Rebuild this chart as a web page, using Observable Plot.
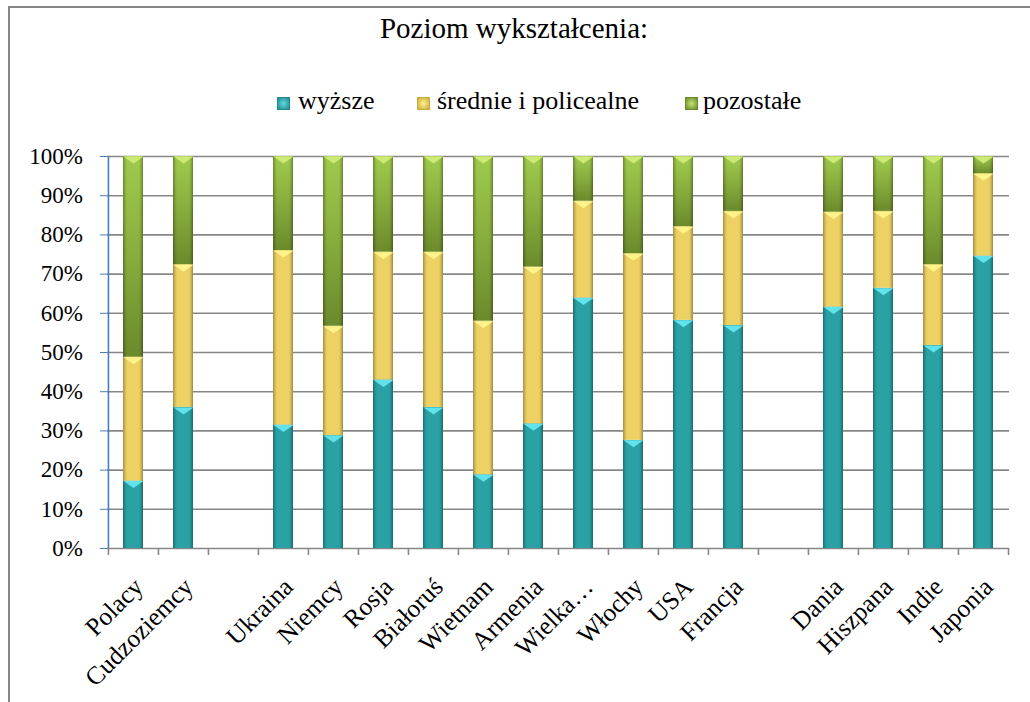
<!DOCTYPE html>
<html><head><meta charset="utf-8">
<script src="https://cdn.jsdelivr.net/npm/d3@7"></script>
<script src="https://cdn.jsdelivr.net/npm/@observablehq/plot@0.6"></script>
<style>
body{margin:0;background:#fff;font-family:"Liberation Serif",serif;}
#wrap{position:relative;width:1030px;height:702px;overflow:hidden;background:#fff;font-family:"Liberation Serif",serif;}
#frame{position:absolute;left:8px;top:6px;width:1200px;height:900px;border-left:2px solid #878787;border-top:2px solid #878787;}
#title{position:absolute;left:0;width:1030px;top:14px;text-align:center;font-size:29px;line-height:29px;}
#title span{position:relative;left:-1px;}
#legend{position:absolute;top:88px;left:0;width:1030px;font-size:26px;line-height:26px;}
.item{position:absolute;top:0;white-space:nowrap;font-family:"Liberation Serif",serif;}
.sw{position:absolute;width:13px;height:13px;top:9px;box-sizing:border-box;}
#chart{position:absolute;left:0;top:0;}
#chart svg, #chart svg text, #chart svg g{font-family:"Liberation Serif",serif !important;}
</style>
</head><body>
<div id="wrap">
  <div id="frame"></div>
  <div id="title"><span>Poziom wykształcenia:</span></div>
  <div id="legend"></div>
  <div id="chart"></div>
</div>
<script>
// ---- data ----
const categories = ["Polacy","Cudzoziemcy","Ukraina","Niemcy","Rosja","Białoruś","Wietnam","Armenia","Wielka…","Włochy","USA","Francja","Dania","Hiszpana","Indie","Japonia"];
const gapAfter = ["Cudzoziemcy","Francja"];
const series = ["wyższe","średnie i policealne","pozostałe"];
const wyzsze    = [17.2,36.0,31.5,28.8,43.0,36.0,18.8,31.8,63.9,27.6,58.2,56.9,61.6,66.4,51.8,74.6];
const srednie   = [31.6,36.4,44.5,27.9,32.6,39.6,39.2,40.0,24.7,47.6,23.9,29.1,24.2,19.6,20.6,21.0];
const pozostale = [51.2,27.6,24.0,43.3,24.4,24.4,42.0,28.2,11.4,24.8,17.9,14.0,14.2,14.0,27.6,4.4];
const yTicks = [0,10,20,30,40,50,60,70,80,90,100];

// ---- derived tables ----
const seriesValues = [wyzsze, srednie, pozostale];
const xDomain = [];
categories.forEach(c => { xDomain.push(c); if (gapAfter.includes(c)) xDomain.push("gap-" + c); });
const long = categories.flatMap((c, i) => series.map((s, j) => ({kraj: c, series: s, value: seriesValues[j][i]})));
const tops = categories.flatMap((c, i) => { let cum = 0; return series.map((s, j) => { cum += seriesValues[j][i]; return {kraj: c, series: s, top: cum}; }); });

// ---- layout ----
const W = 1030, H = 702, ML = 107, MR = 21, MT = 156, MB = 154;
const step = (W - ML - MR) / xDomain.length;
const grid = "#878787", blue = "#4A7EBB";
const fills = ["url(#gTeal)", "url(#gYellow)", "url(#gGreen)"];
const triFill = ["#62E3EC", "#FFF38A", "#CDEB74"];
const flatTri = {draw(ctx) { ctx.moveTo(-10, 0); ctx.lineTo(10, 0); ctx.lineTo(0, 7); ctx.closePath(); }};

const plot = Plot.plot({
  width: W, height: H,
  marginLeft: ML, marginRight: MR, marginTop: MT, marginBottom: MB,
  style: "font-family: 'Liberation Serif', serif; font-size: 23px; color: black; background: transparent;",
  x: {domain: xDomain, paddingInner: 0.6, paddingOuter: 0.3},
  y: {domain: [0, 100]},
  color: {type: "ordinal", domain: series, range: fills},
  marks: [
    Plot.ruleY(yTicks, {y: d => d, stroke: grid, strokeWidth: 1.6}),
    Plot.tickX(xDomain, {x: d => d, dx: -step / 2, stroke: grid, strokeWidth: 1.6, insetTop: H - MT - MB, insetBottom: -7}),
    Plot.tickX([xDomain[xDomain.length - 1]], {x: d => d, dx: step / 2, stroke: grid, strokeWidth: 1.6, insetTop: H - MT - MB, insetBottom: -7}),
    Plot.barY(long, {x: "kraj", y: "value", fill: "series"}),
    Plot.barY(long, {x: "kraj", y: "value", fill: "url(#edge)"}),
    ...series.map((s, j) => Plot.dot(tops.filter(d => d.series === s), {x: "kraj", y: "top", symbol: flatTri, r: 5, fill: triFill[j], stroke: "none"})),
    Plot.ruleX([xDomain[0]], {x: d => d, dx: -step / 2, y1: 0, y2: 100, stroke: blue, strokeWidth: 1.6}),
    Plot.axisY(yTicks, {tickFormat: d => d + "%", tickSize: 7, tickPadding: 17.5, stroke: blue, fill: "black", fontSize: 23, label: null}),
    Plot.axisX({tickRotate: -45, tickSize: 0, tickPadding: 0, textAnchor: "end", lineAnchor: "bottom", dx: 11, dy: 40, tickFormat: d => d.startsWith("gap-") ? "" : d, fill: "black", fontSize: 25.5, label: null})
  ]
});

// gradients
const defs = d3.select(plot).insert("defs", ":first-child");
function grad(id, stops, vertical) {
  const g = defs.append("linearGradient").attr("id", id).attr("x1", 0).attr("y1", 0).attr("x2", vertical ? 0 : 1).attr("y2", vertical ? 1 : 0);
  stops.forEach(([o, c, a]) => g.append("stop").attr("offset", o).attr("stop-color", c).attr("stop-opacity", a == null ? 1 : a));
}
grad("gTeal", [[0, "#2AA1A5"], [1, "#2AA1A5"]], false);
grad("gYellow", [[0, "#EDD163"], [1, "#EDD163"]], false);
grad("gGreen", [[0, "#A0CB4D"], [0.5, "#87AD3D"], [1, "#6B8A2C"]], true);
grad("edge", [[0, "#000", 0.32], [0.1, "#000", 0.12], [0.2, "#000", 0], [0.8, "#000", 0], [0.9, "#000", 0.12], [1, "#000", 0.35]], false);
plot.setAttribute("font-family", "Liberation Serif, serif");
document.getElementById("chart").appendChild(plot);

// legend
const legendItems = [
  {x: 277, textX: 298, c1: "#5FD9E0", c2: "#1F8A8E"},
  {x: 417, textX: 437, c1: "#FFF38A", c2: "#C9AA3E"},
  {x: 685, textX: 703, c1: "#C5E56C", c2: "#6B8A2C"}
];
const leg = document.getElementById("legend");
series.forEach((s, j) => {
  const it = legendItems[j];
  const sw = document.createElement("div");
  sw.className = "sw";
  sw.style.left = it.x + "px";
  sw.style.background = `radial-gradient(circle, ${it.c1} 0%, ${it.c2} 100%)`;
  sw.style.border = `1px solid ${it.c2}`;
  leg.appendChild(sw);
  const t = document.createElement("div");
  t.className = "item";
  t.style.left = it.textX + "px";
  t.textContent = s;
  leg.appendChild(t);
});
</script>
</body></html>
